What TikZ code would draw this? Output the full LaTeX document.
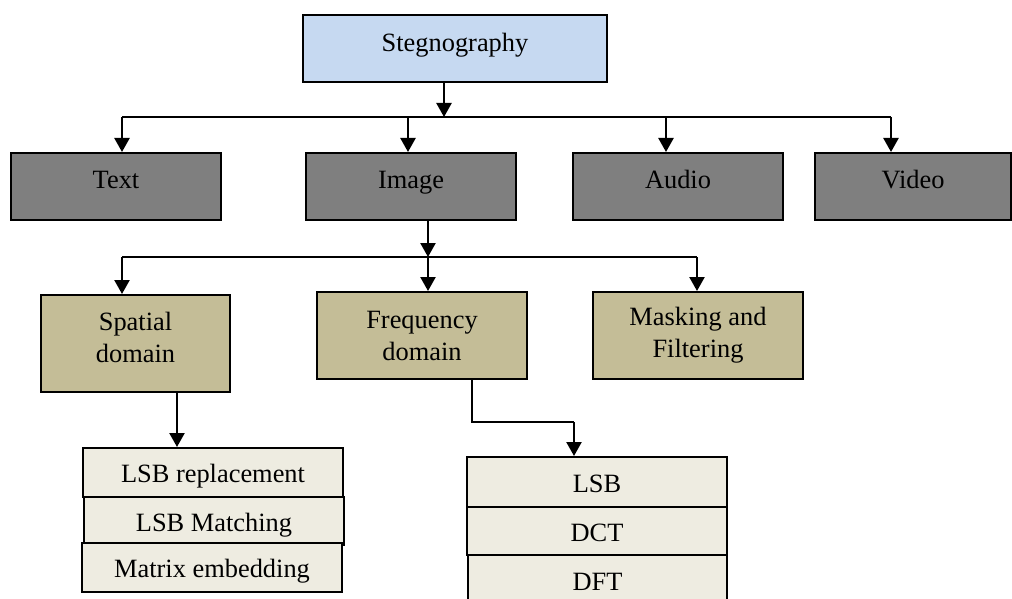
\documentclass[tikz,border=0pt]{standalone}
\usepackage{fontspec}
\setmainfont{Liberation Serif}
\usetikzlibrary{arrows.meta}
\definecolor{cblue}{HTML}{C6D9F1}
\definecolor{cgray}{HTML}{7F7F7F}
\definecolor{ctan}{HTML}{C4BD97}
\definecolor{clight}{HTML}{EEECE1}
\tikzset{
  box/.style={draw=black, line width=1pt, inner sep=0pt, align=center,
    font=\fontsize{13.2}{16}\selectfont},
  topbox/.style={box, text height=9pt, text depth=5.8pt},
  midbox/.style={box, text height=9pt, text depth=6.5pt},
  listbox/.style={box, text height=12pt, text depth=2pt},
  arr/.style={line width=1.2pt, -{Triangle[width=7.5pt,length=7pt]}},
  ln/.style={line width=1pt},
}
\begin{document}
\begin{tikzpicture}[x=0.5pt,y=-0.5pt]
\useasboundingbox (0,0) rectangle (1012,599);
\clip (0,0) rectangle (1012,599);
% level 0
\node[topbox, fill=cblue, minimum width=152pt, minimum height=33.5pt] (steg) at (455,48.5) {Stegnography};
% level 1
\node[midbox, fill=cgray, minimum width=105pt, minimum height=33.5pt] (text) at (116,186.5) {Text};
\node[midbox, fill=cgray, minimum width=105pt, minimum height=33.5pt] (image) at (411,186.5) {Image};
\node[midbox, fill=cgray, minimum width=105pt, minimum height=33.5pt] (audio) at (678,186.5) {Audio};
\node[midbox, fill=cgray, minimum width=98pt, minimum height=33.5pt] (video) at (913,186.5) {Video};
% level 2
\node[box, fill=ctan, minimum width=94.5pt, minimum height=48.5pt, text depth=6pt] (spatial) at (135.5,343.5) {Spatial\\domain};
\node[box, fill=ctan, minimum width=105pt, minimum height=43.5pt] (freq) at (422,335.5) {Frequency\\domain};
\node[box, fill=ctan, minimum width=105pt, minimum height=43.5pt] (mask) at (698,335.5) {Masking and\\Filtering};
% spatial list
\node[listbox, fill=clight, minimum width=130pt, minimum height=24.5pt] (lsbr) at (213,472.5) {LSB replacement};
\node[listbox, fill=clight, minimum width=130pt, minimum height=24pt] (lsbm) at (214,521) {LSB Matching};
\node[listbox, fill=clight, minimum width=130pt, minimum height=24.5pt] (matrix) at (212,567.5) {Matrix embedding};
% frequency list
\node[listbox, fill=clight, minimum width=130pt, minimum height=25pt] (lsb) at (597,482) {LSB};
\node[listbox, fill=clight, minimum width=130pt, minimum height=24pt] (dct) at (597,531) {DCT};
\node[box, fill=clight, minimum width=129.5pt, minimum height=42pt] (dft) at (597.5,597) {};
\node[font=\fontsize{13.2}{16}\selectfont, anchor=base, inner sep=0pt] (dftlabel) at (597.5,590) {DFT};
% connectors level 0 -> 1
\coordinate (j1) at (444,117);
\coordinate (b1) at (122,117);
\coordinate (b2) at (408,117);
\coordinate (b3) at (666,117);
\coordinate (b4) at (891,117);
\draw[arr] (steg.south -| j1) -- (j1);
\draw[ln] (b1) -- (b4);
\draw[arr] (b1) -- (b1 |- text.north);
\draw[arr] (b2) -- (b2 |- image.north);
\draw[arr] (b3) -- (b3 |- audio.north);
\draw[arr] (b4) -- (b4 |- video.north);
% connectors level 1 -> 2
\coordinate (j2) at (428,257);
\coordinate (c1) at (122,257);
\coordinate (c3) at (697,257);
\draw[arr] (image.south -| j2) -- (j2);
\draw[ln] (c1) -- (c3);
\draw[arr] (c1) -- (c1 |- spatial.north);
\draw[arr] (j2) -- (j2 |- freq.north);
\draw[arr] (c3) -- (c3 |- mask.north);
% level 2 -> lists
\coordinate (s1) at (177,400);
\draw[arr] (spatial.south -| s1) -- (s1 |- lsbr.north);
\coordinate (f1) at (472,422);
\coordinate (f2) at (574,422);
\draw[ln] (freq.south -| f1) -- (f1) -- (f2);
\draw[arr] (f2) -- (f2 |- lsb.north);
\end{tikzpicture}
\end{document}
